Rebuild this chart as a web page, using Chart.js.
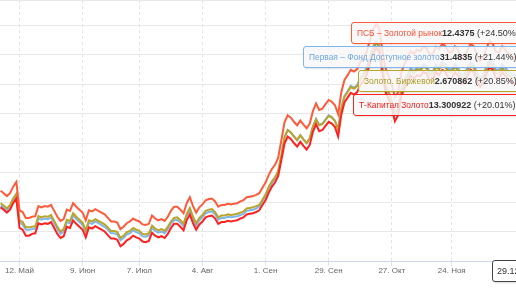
<!DOCTYPE html>
<html>
<head>
<meta charset="utf-8">
<script src="https://cdn.jsdelivr.net/npm/chart.js@4"></script>
<style>
  body { margin: 0; width: 516px; height: 290px; overflow: hidden; background: #fff; font-family: "Liberation Sans", Arial, sans-serif; }
  .wrap { position: relative; width: 516px; height: 290px; overflow: hidden; }
  .tip { position: absolute; right: -12px; height: 20px; line-height: 20px; padding-left: 5px; background: rgba(247,247,247,0.85); border: 1px solid; border-radius: 3px; font-size: 9px; color: #333; white-space: nowrap; box-shadow: 1px 1px 2px rgba(0,0,0,0.12); }
  .tip span { font-size: 8.4px; }
  .tip b { font-weight: bold; }
  .xlabel { position: absolute; left: 492px; top: 260px; width: 34px; height: 20px; line-height: 20px; padding-left: 4px; background: #fff; border: 1px solid #444; border-radius: 3px; font-size: 9px; color: #333; box-shadow: 1px 1px 2px rgba(0,0,0,0.15); }
</style>
</head>
<body>
<div class="wrap">
  <canvas id="myChart" width="516" height="290"></canvas>
  <div id="tips"></div>
</div>
<script>
// x axis: trading days, index based
const tickIdx = [6, 26, 44, 64, 84, 104, 124, 143];
const tickLabels = ["12. Май", "9. Июн", "7. Июл", "4. Авг", "1. Сен", "29. Сен", "27. Окт", "24. Ноя"];
const lastDate = "29.12";

const seriesNames = ["ПСБ – Золотой рынок", "Первая – Фонд Доступное золото", "Золото. Биржевой", "Т-Капитал Золото"];
const lastPrices = ["12.4375", "31.4835", "2.670862", "13.300922"];
const lastChanges = ["+24.50%", "+21.44%", "+20.85%", "+20.01%"];

// % change
const psb = [1.9,1.5,1.0,1.5,2.6,3.4,-1.4,-1.7,-2.7,-2.7,
  -2.5,-2.4,-0.7,-0.9,-0.7,-0.8,-0.5,-1.5,-2.5,-3.2,
  -2.9,-1.3,-1.5,-0.2,-0.8,-1.3,-1.8,-3.1,-1.4,-1.6,
  -1.2,-1.5,-1.8,-2.1,-2.7,-3.3,-3.3,-3.5,-4.6,-4.2,
  -3.6,-3.3,-2.8,-3.1,-3.3,-3.8,-3.9,-3.7,-2.3,-2.8,
  -3.1,-2.9,-3.2,-2.5,-1.5,-0.8,-0.8,-1.3,-1.9,-0.2,
  0.8,-0.7,-1.8,-0.9,-0.4,0.3,0.5,0.6,0.1,-0.8,
  -0.5,-0.5,-0.3,-0.4,-0.3,-0.2,0.1,0.3,0.8,0.9,
  1.0,1.2,1.5,2.4,3.3,4.6,5.6,6.3,7.5,10.5,
  13.5,14.7,14.3,13.6,13.0,13.8,13.1,12.5,13.3,15.4,
  16.7,15.6,15.8,16.6,17.3,17.0,16.4,14.9,18.6,20.7,
  21.5,22.4,22.1,22.5,23.7,24.4,25.4,27.3,29.0,30.2,
  29.5,25.8,22.7,21.4,19.8,17.8,18.6,21.9,23.4,24.4,
  25.6,25.1,25.8,25.6,26.3,26.1,24.9,25.1,26.3,25.9,
  26.8,26.4,25.4,25.4,26.4,25.8,24.4,24.6,25.8,26.8,
  26.4,24.9,23.9,24.6,26.1,27.3,26.8,25.4,25.4,26.4,
  25.8,25.1,24.7,24.5,24.5];

const pervaya = [-0.6,-1.0,-1.5,-0.9,0.2,1.0,-3.5,-3.8,-4.7,-4.7,
  -4.6,-4.5,-2.8,-3.0,-2.8,-2.9,-2.6,-3.6,-4.6,-5.4,
  -5.0,-3.4,-3.6,-2.3,-2.9,-3.4,-3.9,-5.2,-3.5,-3.7,
  -3.3,-3.6,-3.9,-4.2,-4.7,-5.3,-5.3,-5.5,-6.5,-6.1,
  -5.5,-5.3,-4.8,-5.1,-5.3,-5.8,-5.9,-5.7,-4.4,-4.9,
  -5.2,-5.0,-5.3,-4.6,-3.7,-3.1,-3.0,-3.5,-4.1,-2.4,
  -1.4,-2.9,-4.0,-3.1,-2.6,-1.9,-1.7,-1.6,-2.1,-3.0,
  -2.7,-2.7,-2.5,-2.6,-2.5,-2.4,-2.2,-2.0,-1.5,-1.4,
  -1.3,-1.1,-0.8,0.1,1.0,2.3,3.2,3.9,5.0,7.7,
  10.9,12.2,11.8,11.1,10.5,11.3,10.6,10.0,10.8,12.8,
  14.1,13.1,13.3,14.0,14.7,14.4,13.8,12.4,15.9,18.0,
  18.8,19.7,19.4,19.8,21.0,21.7,22.7,24.5,26.2,27.3,
  26.6,23.0,20.0,18.7,17.2,15.3,16.0,19.2,20.6,21.6,
  22.7,22.2,22.9,22.7,23.3,23.1,22.0,22.1,23.3,22.9,
  23.8,23.4,22.5,22.5,23.4,22.8,21.5,21.7,22.8,23.7,
  23.3,21.9,20.9,21.6,23.0,24.1,23.7,22.4,22.4,23.3,
  22.7,22.1,21.7,21.44,21.44];

const birzh = [-0.2,-0.6,-1.1,-0.5,0.6,1.4,-3.1,-3.4,-4.3,-4.3,
  -4.2,-4.1,-2.4,-2.6,-2.4,-2.5,-2.2,-3.2,-4.2,-5.0,
  -4.6,-3.0,-3.2,-1.9,-2.5,-3.0,-3.5,-4.8,-3.1,-3.3,
  -2.9,-3.2,-3.5,-3.8,-4.3,-4.9,-4.9,-5.1,-6.1,-5.7,
  -5.1,-4.9,-4.4,-4.7,-4.9,-5.4,-5.5,-5.3,-4.0,-4.5,
  -4.8,-4.6,-4.9,-4.2,-3.3,-2.7,-2.6,-3.1,-3.7,-2.0,
  -1.0,-2.5,-3.6,-2.7,-2.2,-1.5,-1.3,-1.2,-1.7,-2.6,
  -2.3,-2.3,-2.1,-2.2,-2.1,-2.0,-1.8,-1.6,-1.1,-1.0,
  -0.9,-0.7,-0.5,0.4,1.3,2.6,3.5,4.2,5.3,7.9,
  11.0,12.2,11.8,11.1,10.5,11.3,10.6,10.0,10.8,12.8,
  14.0,13.0,13.2,13.9,14.6,14.3,13.7,12.3,15.8,17.8,
  18.6,19.5,19.2,19.6,20.7,21.4,22.4,24.2,25.9,27.0,
  26.3,22.7,19.7,18.4,16.8,14.9,15.6,18.8,20.2,21.2,
  22.3,21.8,22.5,22.3,22.9,22.7,21.6,21.7,22.9,22.5,
  23.3,22.9,22.0,22.0,22.9,22.3,21.0,21.2,22.3,23.2,
  22.8,21.4,20.4,21.1,22.5,23.6,23.1,21.8,21.8,22.7,
  22.1,21.5,21.1,20.85,20.85];

const tkap = [-0.9,-1.3,-1.8,-1.3,-0.2,0.6,-4.4,-4.7,-5.7,-5.7,
  -5.4,-5.3,-3.6,-3.8,-3.6,-3.7,-3.4,-4.4,-5.4,-6.1,
  -5.8,-4.2,-4.4,-3.1,-3.7,-4.2,-4.7,-6.0,-4.3,-4.5,
  -4.1,-4.4,-4.7,-5.0,-5.6,-6.2,-6.2,-6.4,-7.5,-7.1,
  -6.5,-6.2,-5.7,-6.0,-6.2,-6.7,-6.8,-6.6,-5.2,-5.7,
  -6.0,-5.8,-6.1,-5.4,-4.4,-3.7,-3.7,-4.2,-4.8,-3.1,
  -2.1,-3.6,-4.7,-3.8,-3.3,-2.6,-2.4,-2.3,-2.8,-3.7,
  -3.4,-3.4,-3.2,-3.3,-3.2,-3.1,-2.8,-2.6,-2.1,-2.0,
  -1.9,-1.7,-1.4,-0.5,0.3,1.6,2.6,3.3,4.4,7.1,
  9.9,11.1,10.7,10.0,9.4,10.2,9.5,8.9,9.7,11.9,
  13.2,12.0,12.2,12.9,13.6,13.3,12.7,11.1,14.8,16.9,
  17.7,18.5,18.2,18.6,19.8,20.5,21.5,23.4,25.0,26.2,
  25.5,21.8,18.7,17.4,15.9,13.7,14.7,17.9,19.3,20.3,
  21.4,20.9,21.5,21.3,22.0,21.8,20.6,20.8,22.0,21.5,
  22.4,22.0,21.0,21.0,22.0,21.4,20.0,20.2,21.4,22.4,
  22.0,20.5,19.5,20.2,21.7,22.9,22.4,21.0,21.0,22.0,
  21.4,20.7,20.3,20.01,20.01];

const colors = ["#ff5a3a", "#7fb6ec", "#b9a52c", "#ff2020"];
const textColors = ["#f5533a", "#6ea8e0", "#ad9b25", "#f51c1c"];
const tipTops = [22, 46, 70, 94];
const tipLefts = [351, 303, 358, 353];

const ctx = document.getElementById("myChart");

function toPoints(arr) {
  return arr.map((v, i) => ({ x: i, y: v }));
}

function line(label, arr, color) {
  return {
    label: label,
    data: toPoints(arr),
    borderColor: color,
    borderWidth: 2,
    pointRadius: 0,
    tension: 0,
    fill: false,
  };
}

let myChart = new Chart(ctx, {
  type: "line",
  data: {
    datasets: [
      line(seriesNames[0], psb, colors[0]),
      line(seriesNames[3], tkap, colors[3]),
      line(seriesNames[2], birzh, colors[2]),
      line(seriesNames[1], pervaya, colors[1]),
    ],
  },
  options: {
    responsive: false,
    animation: false,
    layout: { padding: 0 },
    plugins: { legend: { display: false }, tooltip: { enabled: false } },
    scales: {
      x: {
        type: "linear",
        min: -0.18,
        max: 163.37,
        afterBuildTicks: (scale) => {
          scale.ticks = tickIdx.map((v) => ({ value: v }));
        },
        afterFit: (scale) => {
          scale.height = 29;
        },
        ticks: {
          autoSkip: false,
          maxRotation: 0,
          padding: 0,
          color: "#666",
          font: { family: "Liberation Sans", size: 8 },
          callback: (v) => tickLabels[tickIdx.indexOf(v)],
        },
        grid: { color: "#e4e4e4", tickLength: 5, tickColor: "#e4e4e4" },
        border: { color: "#ccd6eb", dash: [3, 3] },
      },
      y: {
        min: -10,
        max: 34.24,
        afterFit: (scale) => {
          scale.width = 0;
        },
        ticks: { display: false, stepSize: 5 },
        grid: { color: "#e8e8e8", drawTicks: false },
        border: { display: false },
      },
    },
  },
});

// static split tooltip for the last point
let tips = document.getElementById("tips");
seriesNames.forEach((name, k) => {
  let d = document.createElement("div");
  d.className = "tip";
  d.style.top = tipTops[k] + "px";
  d.style.left = tipLefts[k] + "px";
  d.style.borderColor = colors[k];
  d.innerHTML = `<span style="color:${textColors[k]}">${name}</span><b>${lastPrices[k]}</b> (${lastChanges[k]})`;
  tips.append(d);
});
let xl = document.createElement("div");
xl.className = "xlabel";
xl.innerText = lastDate;
tips.append(xl);
</script>
</body>
</html>
